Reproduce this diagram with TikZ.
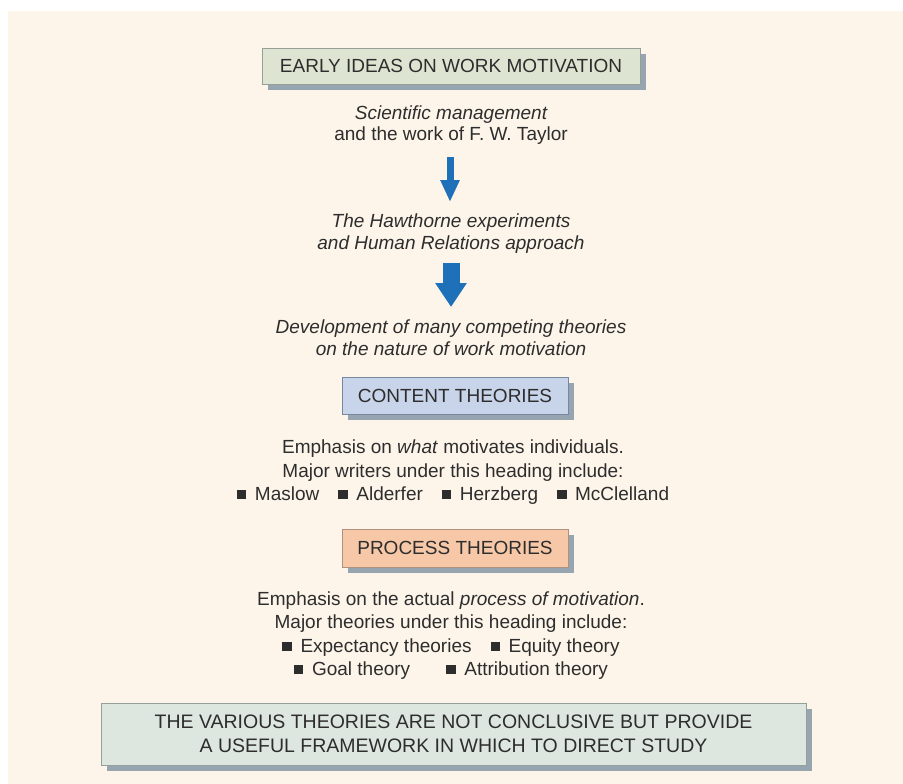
\documentclass[tikz,border=0pt]{standalone}
\usepackage{fontspec}
\setmainfont{Liberation Sans}
\usetikzlibrary{arrows.meta,shadows}
\definecolor{bgc}{RGB}{253,245,234}
\definecolor{txt}{RGB}{45,45,45}
\definecolor{arrowblue}{RGB}{30,112,185}
\definecolor{shadowc}{RGB}{150,165,175}
\definecolor{greenfill}{RGB}{221,229,210}
\definecolor{greendraw}{RGB}{150,160,150}
\definecolor{bluefill}{RGB}{200,212,234}
\definecolor{bluedraw}{RGB}{120,135,160}
\definecolor{peachfill}{RGB}{246,200,168}
\definecolor{peachdraw}{RGB}{175,145,125}
\definecolor{greyfill}{RGB}{222,230,224}
\definecolor{greydraw}{RGB}{150,160,155}
\newcommand{\sqb}{\rule[0.05em]{0.5em}{0.5em}}
\tikzset{
  boxbase/.style={draw, line width=0.8pt, text=txt, inner sep=0pt,
    drop shadow={shadow xshift=6pt, shadow yshift=-6pt, fill=shadowc, opacity=1}},
  gbox/.style={boxbase, fill=greenfill, draw=greendraw},
  bbox/.style={boxbase, fill=bluefill, draw=bluedraw},
  pbox/.style={boxbase, fill=peachfill, draw=peachdraw},
  ybox/.style={boxbase, fill=greyfill, draw=greydraw, align=center},
  line/.style={anchor=base, text=txt, inner sep=0pt},
  bigarrow/.style={arrowblue, line width=#1},
}
\begin{document}
\begin{tikzpicture}[x=1pt,y=-1pt,font=\fontsize{19}{23}\selectfont]
\useasboundingbox (0,0) rectangle (903,784);
\fill[bgc] (8,11) rectangle (903,784);

% boxes
\node[gbox, minimum width=378pt, minimum height=36pt] (b1) at (451,66) {EARLY IDEAS ON WORK MOTIVATION};
\node[bbox, minimum width=226pt, minimum height=37pt] (b2) at (455,395.5) {CONTENT THEORIES};
\node[pbox, minimum width=226pt, minimum height=38pt] (b3) at (455,548) {PROCESS THEORIES};
\node[ybox, minimum width=705pt, minimum height=62pt, font=\fontsize{19.5}{24}\selectfont] (b4) at (453.5,734)
  {THE VARIOUS THEORIES ARE NOT CONCLUSIVE BUT PROVIDE\\A USEFUL FRAMEWORK IN WHICH TO DIRECT STUDY};

% text lines
\node[line] (s1) at (451,120) {\itshape Scientific management};
\node[line] (s2) at (451,140) {and the work of F. W. Taylor};
\node[line] (h1) at (451,227) {\itshape The Hawthorne experiments};
\node[line] (h2) at (451,249) {\itshape and Human Relations approach};
\node[line] (d1) at (451,333) {\itshape Development of many competing theories};
\node[line] (d2) at (451,355) {\itshape on the nature of work motivation};

\node[line] (c1) at (453,453) {Emphasis on \textit{what} motivates individuals.};
\node[line] (c2) at (453,477) {Major writers under this heading include:};
\node[line] (c3) at (453,500) {\sqb\hspace{0.45em}Maslow\hspace{1em}\sqb\hspace{0.45em}Alderfer\hspace{1em}\sqb\hspace{0.45em}Herzberg\hspace{1em}\sqb\hspace{0.45em}McClelland};

\node[line] (p1) at (451,605) {Emphasis on the actual \textit{process of motivation}.};
\node[line] (p2) at (451,628) {Major theories under this heading include:};
\node[line] (p3) at (451,652) {\sqb\hspace{0.45em}Expectancy theories\hspace{1em}\sqb\hspace{0.45em}Equity theory};
\node[line] (p4) at (451,675) {\sqb\hspace{0.45em}Goal theory\hspace{1.9em}\sqb\hspace{0.45em}Attribution theory};

% arrows
\coordinate (a1s) at (450,157);
\coordinate (a1e) at (450,202);
\coordinate (a2s) at (451,263);
\coordinate (a2e) at (451,307);
\draw[bigarrow=7pt, -{Triangle[width=18pt,length=22pt]}] (a1s) -- (a1e);
\draw[bigarrow=17pt, -{Triangle[width=30pt,length=24pt]}] (a2s) -- (a2e);
\end{tikzpicture}
\end{document}
